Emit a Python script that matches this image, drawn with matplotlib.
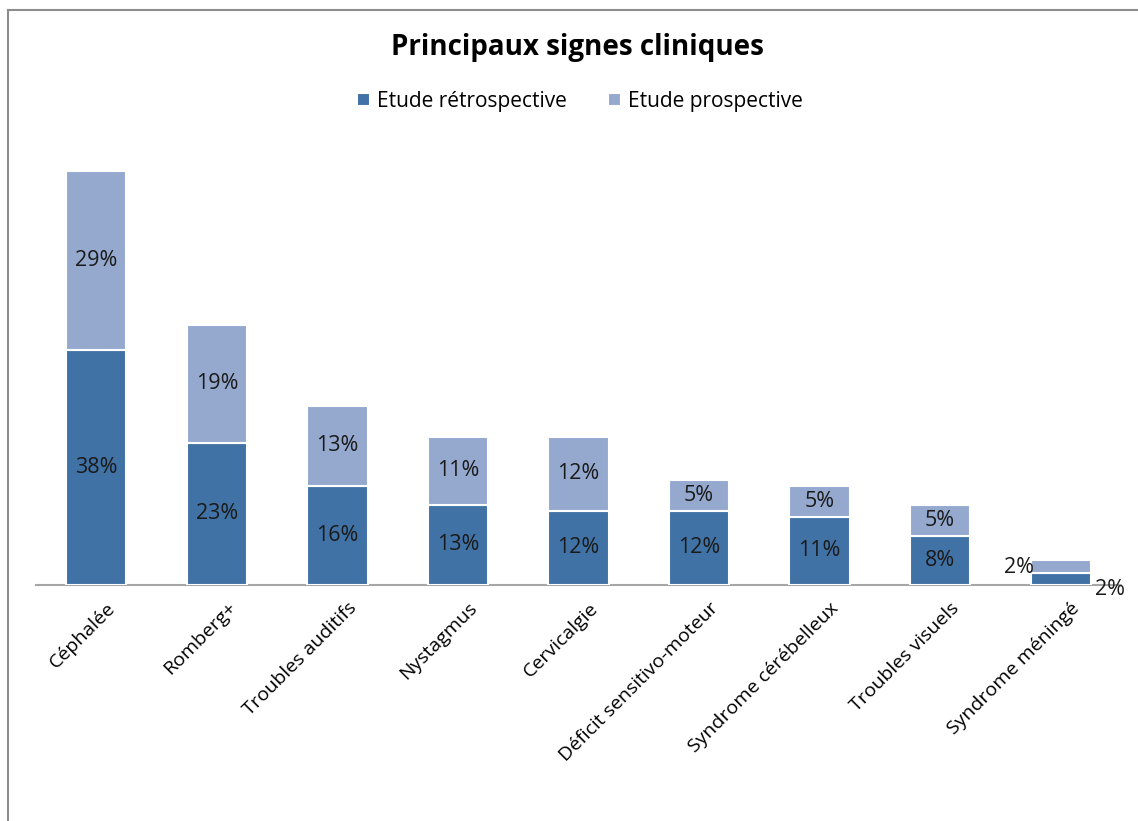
import matplotlib.pyplot as plt
from matplotlib.lines import Line2D
import matplotlib.transforms as mtransforms
import numpy as np

plt.rcParams['font.family'] = ['Open Sans', 'DejaVu Sans']

categories = ['Céphalée', 'Romberg+', 'Troubles auditifs', 'Nystagmus', 'Cervicalgie',
              'Déficit sensitivo-moteur', 'Syndrome cérébelleux', 'Troubles visuels',
              'Syndrome méningé']
retro = [38, 23, 16, 13, 12, 12, 11, 8, 2]
prosp = [29, 19, 13, 11, 12, 5, 5, 5, 2]
series_names = ['Etude rétrospective', 'Etude prospective']

c_dark = '#4172a5'
c_light = '#95a9cf'

W, H = 1138, 821
fig = plt.figure(figsize=(W / 100, H / 100), dpi=100)

# axes placed in pixel terms: x 36..1121, baseline y=585
left, right = 36 / W, 1121 / W
bottom = 1 - 585 / H
top = 1 - 152 / H
ax = fig.add_axes([left, bottom, right - left, top - bottom])

x = np.arange(len(categories))
b1 = ax.bar(x, retro, width=0.5, color=c_dark, edgecolor='white', linewidth=1.5,
            label=series_names[0], zorder=3)
b2 = ax.bar(x, prosp, width=0.5, bottom=retro, color=c_light, edgecolor='white',
            linewidth=1.5, label=series_names[1], zorder=3)

ax.set_xlim(-0.5, len(categories) - 0.5)
ax.set_ylim(0, 70)

fs = 15.5
for i in range(len(categories)):
    if i == len(categories) - 1:
        # small bar: labels pushed outside
        ax.text(i - 0.35, retro[i] + prosp[i] * 0.45, f'{prosp[i]}%', ha='center',
                va='center', fontsize=fs, color='#1a1a1a')
        ax.text(i + 0.41, -0.8, f'{retro[i]}%', ha='center', va='center',
                fontsize=fs, color='#1a1a1a')
        continue
    ax.text(i, retro[i] / 2, f'{retro[i]}%', ha='center', va='center',
            fontsize=fs, color='#1a1a1a', zorder=4)
    ax.text(i, retro[i] + prosp[i] / 2, f'{prosp[i]}%', ha='center', va='center',
            fontsize=fs, color='#1a1a1a', zorder=4)

for s in ['left', 'right', 'top']:
    ax.spines[s].set_visible(False)
ax.spines['bottom'].set_color('#a6a6a6')
ax.spines['bottom'].set_linewidth(1.5)
ax.set_yticks([])
ax.set_xticks(x)
ax.set_xticklabels(categories, rotation=45, ha='right', rotation_mode='anchor',
                   fontsize=14)
ax.tick_params(axis='x', length=0, pad=10)
shift = mtransforms.ScaledTranslation(10 / 100, 0, fig.dpi_scale_trans)
for lab in ax.get_xticklabels():
    lab.set_transform(lab.get_transform() + shift)

fig.text(577 / W, 1 - 47 / H, 'Principaux signes cliniques', ha='center', va='center',
         fontsize=20, fontweight='bold')
leg = fig.legend(handles=[b1, b2], loc='center', bbox_to_anchor=(580 / W, 1 - 101 / H),
                 ncol=2, frameon=False, fontsize=15, handlelength=0.6,
                 handleheight=0.6, handletextpad=0.35, columnspacing=2.0)

# chart frame (top and left visible)
fig.add_artist(Line2D([8 / W, 1], [1 - 10 / H, 1 - 10 / H], color='#8c8c8c', lw=1.5))
fig.add_artist(Line2D([8 / W, 8 / W], [0, 1 - 10 / H], color='#8c8c8c', lw=1.5))

fig.savefig('out.png', dpi=100)
